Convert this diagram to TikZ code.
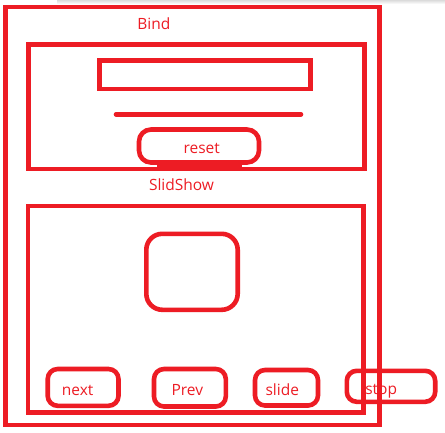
\documentclass[tikz,border=0pt]{standalone}
\usepackage{fontspec}
\setmainfont{Open Sans}
\definecolor{pred}{RGB}{237,28,36}
\begin{document}
\begin{tikzpicture}[x=1pt,y=-1pt,
  box/.style={draw=pred, line width=4.6pt, inner sep=0pt, outer sep=0pt, fill=none},
  rbox/.style={box, rounded corners=#1},
  lbl/.style={text=pred, font=\fontsize{15.5}{18}\selectfont, anchor=base, inner sep=0pt}]
\useasboundingbox[fill=white] (0,0) rectangle (445,432);
\shade[top color=gray!28, bottom color=white] (57,0) rectangle (445,4);
% outer frame
\node[box, minimum width=374pt, minimum height=418pt] (outer) at (192.5,216) {};
\node[lbl] (bindt) at (153.8,29.3) {Bind};
% Bind box
\node[box, minimum width=336pt, minimum height=124.3pt] (bindbox) at (196.5,106.85) {};
\node[box, minimum width=211pt, minimum height=28.1pt] (field) at (205,74.75) {};
\coordinate (barL) at (116,114.3);
\coordinate (barR) at (301,114.3);
\draw[draw=pred, line width=4.6pt, line cap=round] (barL) -- (barR);
\node[rbox=12pt, minimum width=120pt, minimum height=33pt] (reset) at (199,146) {};
\fill[pred] (157,161.5) rectangle (242,168);
\node[lbl] (resett) at (201.7,153.3) {reset};
% SlidShow box
\node[lbl] (slidt) at (181.5,190.7) {SlidShow};
\node[box, minimum width=335.5pt, minimum height=206.9pt] (slidebox) at (195.75,309.25) {};
\node[rbox=16pt, minimum width=91.4pt, minimum height=76pt] (image) at (192,271.8) {};
% buttons
\node[rbox=10pt, minimum width=70.8pt, minimum height=36.8pt] (next) at (83.1,387.4) {};
\node[lbl] (nextt) at (77.7,395) {next};
\node[rbox=10pt, minimum width=71.8pt, minimum height=37.5pt] (prev) at (189.9,387.75) {};
\node[lbl] (prevt) at (187.3,395) {Prev};
\node[rbox=10pt, minimum width=63pt, minimum height=35.5pt] (slide) at (286.5,387.75) {};
\node[lbl] (slidet) at (282.3,395) {slide};
\node[rbox=10pt, minimum width=88.4pt, minimum height=31pt] (stop) at (391,386.3) {};
\node[lbl] (stopt) at (381.2,394.5) {stop};
\end{tikzpicture}
\end{document}
